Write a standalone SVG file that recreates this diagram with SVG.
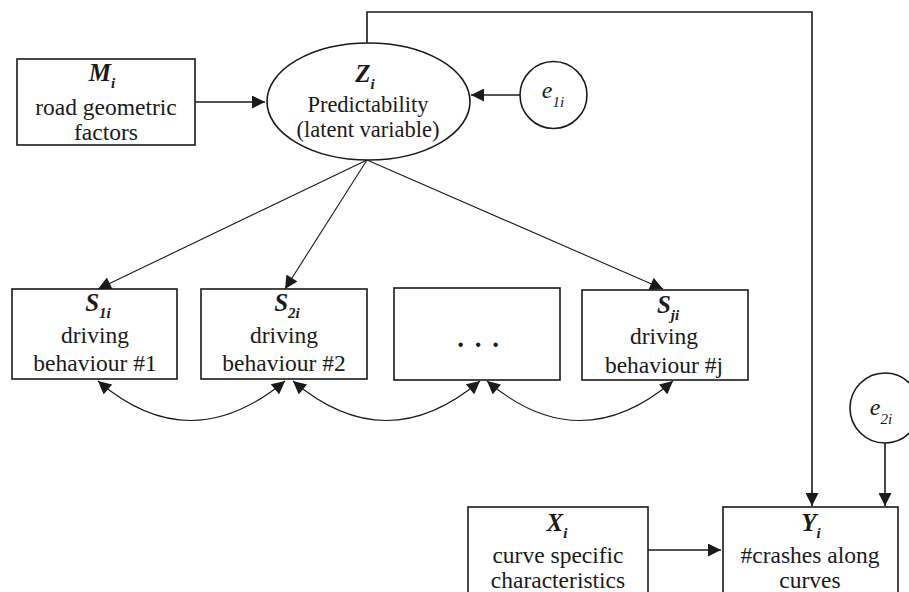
<svg xmlns="http://www.w3.org/2000/svg" width="909" height="592" viewBox="0 0 909 592">
<defs>
<marker id="ah" viewBox="0 0 10 10" refX="10" refY="5" markerWidth="14" markerHeight="13" markerUnits="userSpaceOnUse" orient="auto-start-reverse">
<path d="M0,0 L10,5 L0,10 z" fill="#1a1a1a"/>
</marker>
</defs>
<style>
.box{fill:#fff;stroke:#1a1a1a;stroke-width:1.6}
.ln{fill:none;stroke:#1a1a1a;stroke-width:1.6}
.thin{fill:none;stroke:#1a1a1a;stroke-width:1.1}
.t{fill:#1a1a1a;text-anchor:middle;font-size:23.5px}
.tz{fill:#1a1a1a;text-anchor:middle;font-size:22.5px}
.v{font-weight:bold;font-style:italic;font-size:25px}
.sub{font-weight:bold;font-style:italic;font-size:15px}
.e{font-style:italic;font-size:24px}
.esub{font-style:italic;font-size:15px}
.dots{font-weight:bold;font-size:27px;letter-spacing:2px}
</style>
<rect width="909" height="592" fill="#fff"/>
<g id="connectors">
<path class="ln" d="M195,102 H265" marker-end="url(#ah)"/>
<path class="ln" d="M520,95 H471" marker-end="url(#ah)"/>
<path class="ln" d="M367,43 V12 H812 V506" marker-end="url(#ah)"/>
<path class="ln" d="M885,443 V506" marker-end="url(#ah)"/>
<path class="ln" d="M648,550 H721" marker-end="url(#ah)"/>
<path class="thin" d="M367,160 L98,289" marker-end="url(#ah)"/>
<path class="thin" d="M367,160 L285,289" marker-end="url(#ah)"/>
<path class="thin" d="M367,160 L663,289" marker-end="url(#ah)"/>
<path class="thin" d="M98,381 Q190,460 285,381" marker-start="url(#ah)" marker-end="url(#ah)"/>
<path class="thin" d="M293,381 Q386,460 480,381" marker-start="url(#ah)" marker-end="url(#ah)"/>
<path class="thin" d="M487,381 Q580,460 673,381" marker-start="url(#ah)" marker-end="url(#ah)"/>
</g>
<g font-family="'Liberation Serif', 'DejaVu Serif', serif">
<g id="M">
<rect class="box" x="17" y="59" width="178" height="86"/>
<text class="t" x="102" y="81"><tspan class="v">M</tspan><tspan class="sub" dy="7">i</tspan></text>
<text class="t" x="106" y="115">road geometric</text>
<text class="t" x="106" y="140">factors</text>
</g>
<g id="Z">
<ellipse class="box" cx="368.5" cy="101.5" rx="101.5" ry="58.5"/>
<text class="t" x="365" y="82"><tspan class="v">Z</tspan><tspan class="sub" dy="7">i</tspan></text>
<text class="tz" x="368" y="112">Predictability</text>
<text class="tz" x="368" y="137">(latent variable)</text>
</g>
<g id="e1">
<circle class="box" cx="553.5" cy="95" r="33.5"/>
<text class="t" x="553" y="98"><tspan class="e">e</tspan><tspan class="esub" dy="9">1i</tspan></text>
</g>
<g id="S1">
<rect class="box" x="12" y="289" width="165" height="90"/>
<text class="t" x="98" y="311"><tspan class="v">S</tspan><tspan class="sub" dy="7">1i</tspan></text>
<text class="t" x="95" y="343">driving</text>
<text class="t" x="95" y="371">behaviour #1</text>
</g>
<g id="S2">
<rect class="box" x="201" y="289" width="166" height="90"/>
<text class="t" x="287" y="311"><tspan class="v">S</tspan><tspan class="sub" dy="7">2i</tspan></text>
<text class="t" x="284" y="343">driving</text>
<text class="t" x="284" y="371">behaviour #2</text>
</g>
<g id="Sdots">
<rect class="box" x="394" y="288" width="166" height="92"/>
<text class="t dots" x="479" y="347">. . .</text>
</g>
<g id="Sj">
<rect class="box" x="582" y="290" width="166" height="90"/>
<text class="t" x="668" y="313"><tspan class="v">S</tspan><tspan class="sub" dy="7">ji</tspan></text>
<text class="t" x="664" y="344">driving</text>
<text class="t" x="664" y="373">behaviour #j</text>
</g>
<g id="e2">
<circle class="box" cx="885" cy="408" r="35"/>
<text class="t" x="881" y="415"><tspan class="e">e</tspan><tspan class="esub" dy="9">2i</tspan></text>
</g>
<g id="X">
<rect class="box" x="468" y="507" width="180" height="100"/>
<text class="t" x="557" y="531"><tspan class="v">X</tspan><tspan class="sub" dy="7">i</tspan></text>
<text class="t" x="558" y="563">curve specific</text>
<text class="t" x="558" y="588">characteristics</text>
</g>
<g id="Y">
<rect class="box" x="723" y="507" width="175" height="100"/>
<text class="t" x="811" y="531"><tspan class="v">Y</tspan><tspan class="sub" dy="7">i</tspan></text>
<text class="t" x="810" y="563">#crashes along</text>
<text class="t" x="810" y="588">curves</text>
</g>
</g>
</svg>
